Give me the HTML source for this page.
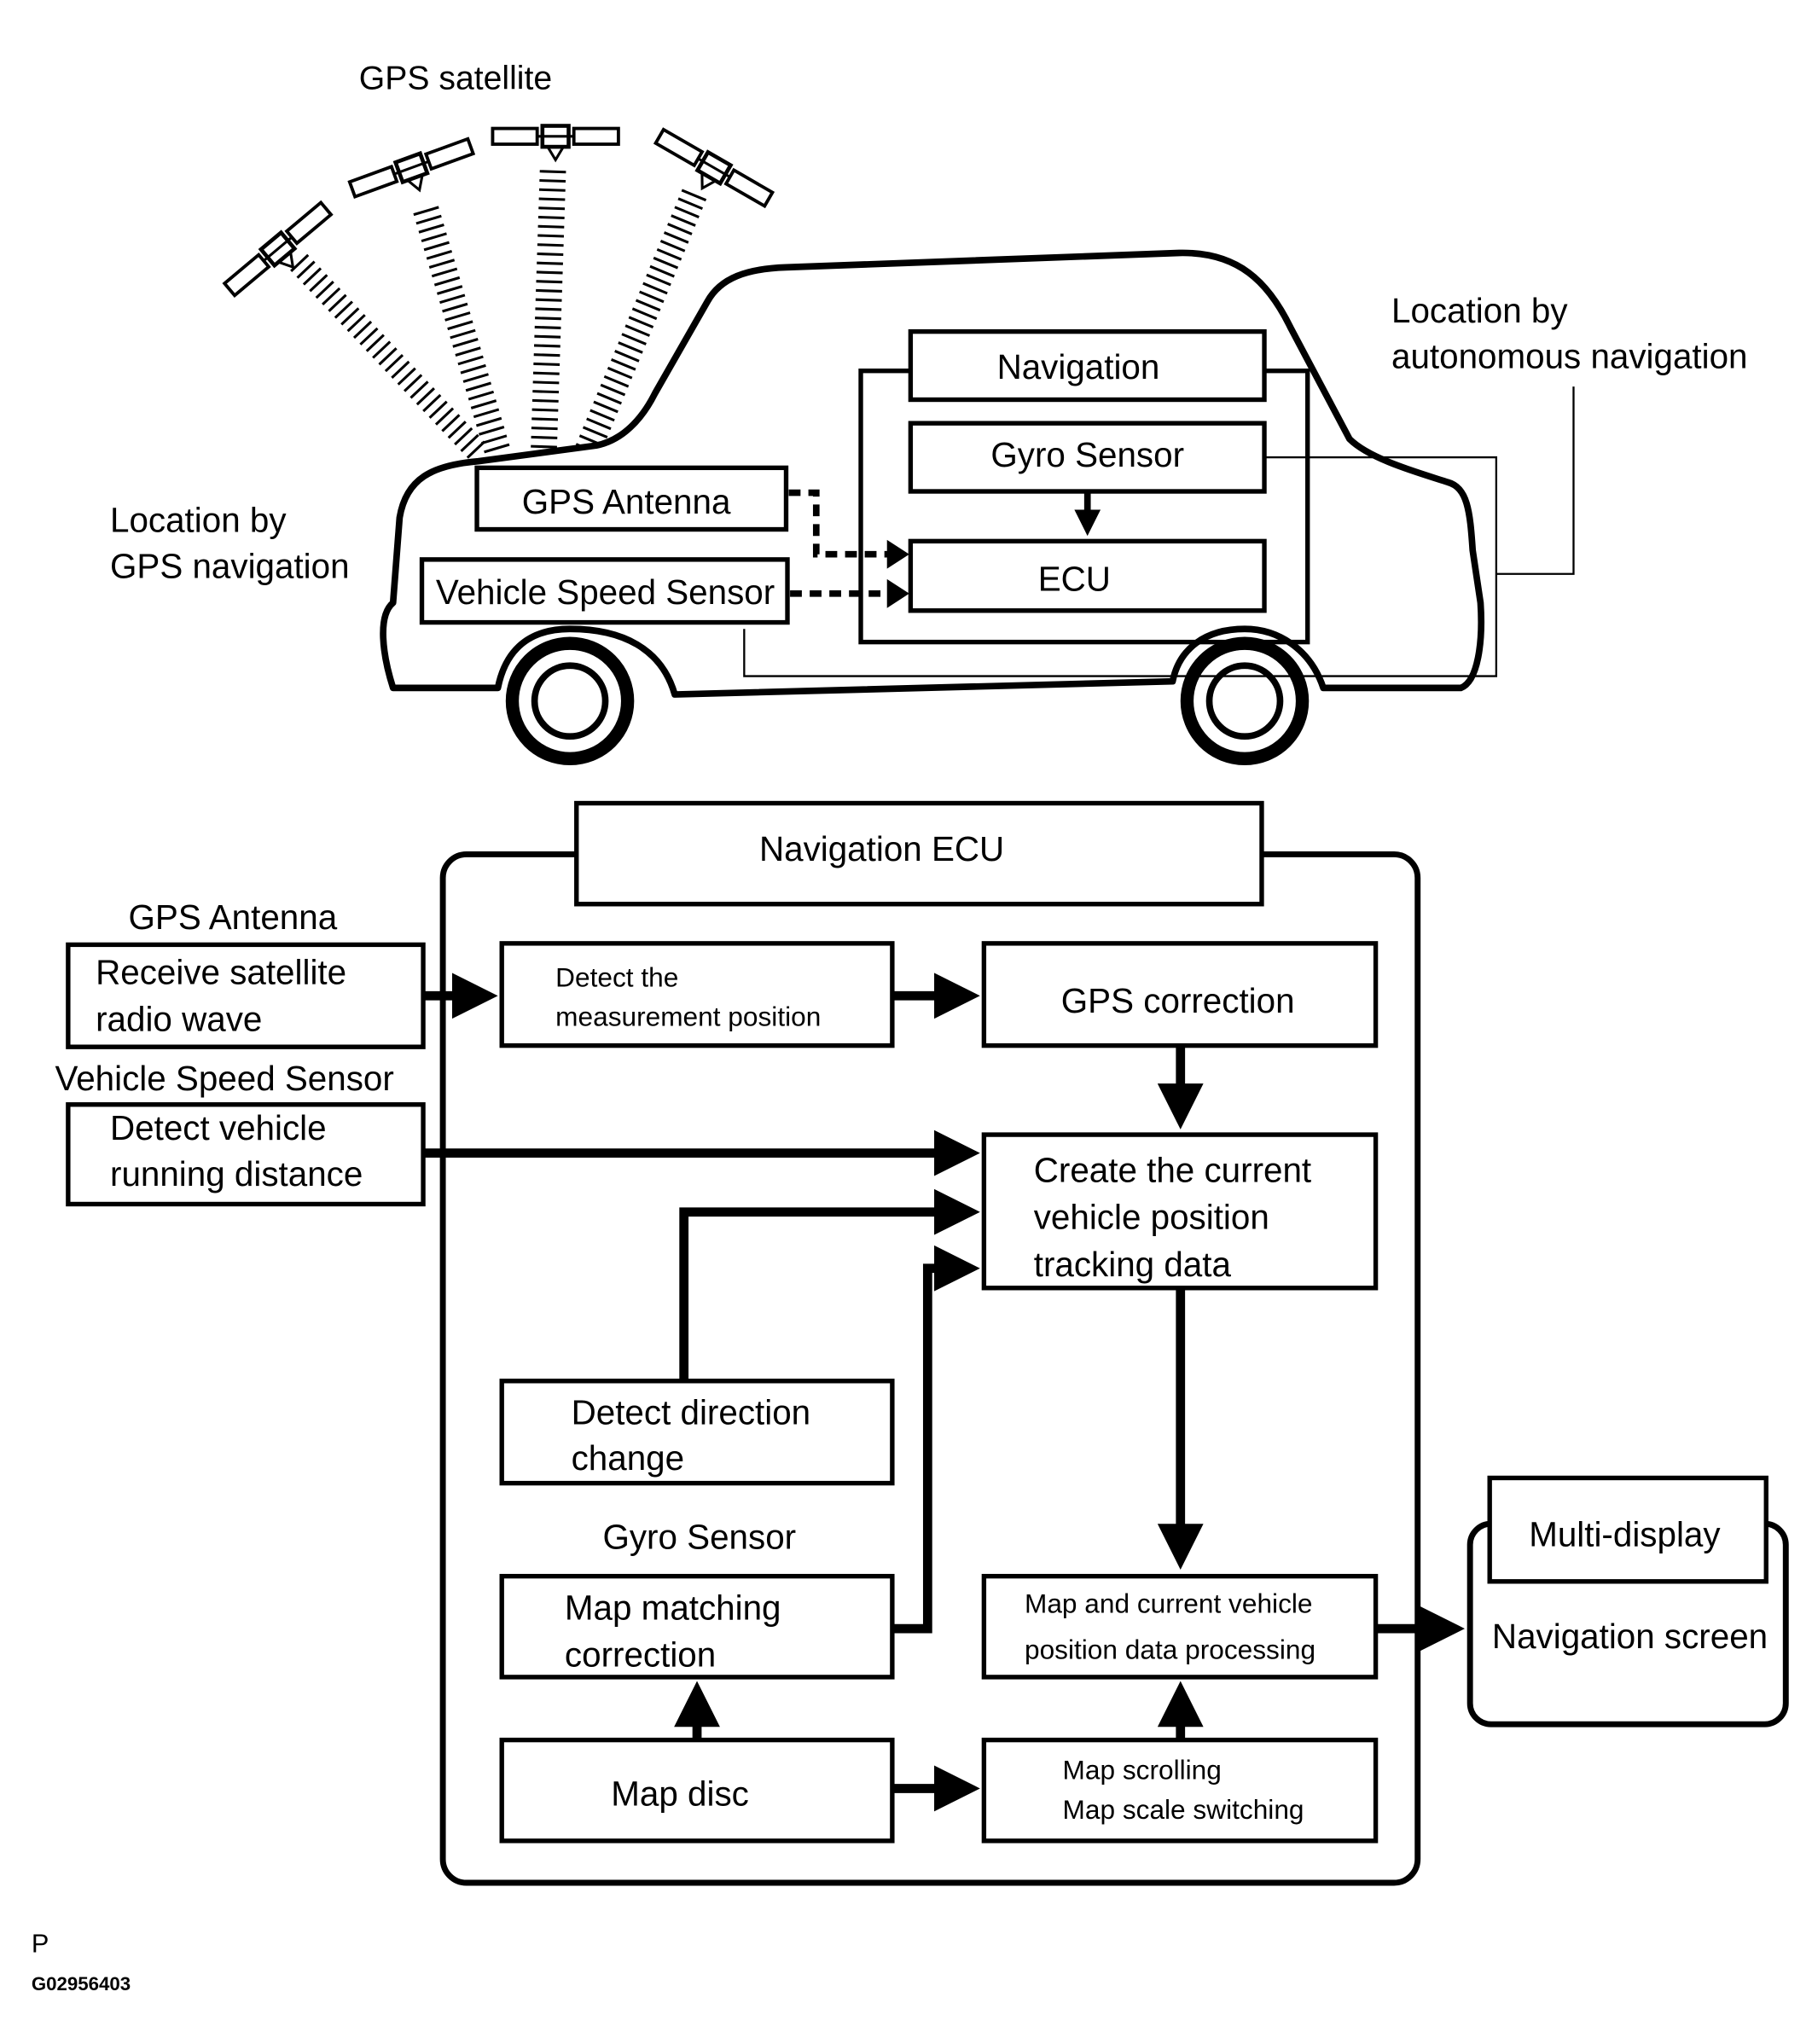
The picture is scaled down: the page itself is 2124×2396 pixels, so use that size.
<!DOCTYPE html>
<html><head><meta charset="utf-8"><style>
html,body{margin:0;padding:0;background:#fff;}
svg{display:block;}
text{font-family:"Liberation Sans",sans-serif;fill:#000;}
</style></head><body>
<svg width="2124" height="2396" viewBox="0 0 1383 1560" xmlns="http://www.w3.org/2000/svg">
<defs>
<marker id="ah" markerWidth="4" markerHeight="4" refX="2.2" refY="2" orient="auto" markerUnits="strokeWidth">
<path d="M0,0 L4,2 L0,4 z" fill="#000"/></marker>
<marker id="ah2" markerWidth="5" markerHeight="5" refX="3" refY="2.5" orient="auto" markerUnits="strokeWidth">
<path d="M0,0 L5,2.5 L0,5 z" fill="#000"/></marker>
<g id="sat">
<rect x="-10" y="-8" width="20" height="16" fill="#fff" stroke="#000" stroke-width="3"/>
<rect x="-48" y="-6" width="34" height="12" fill="#fff" stroke="#000" stroke-width="2.5"/>
<rect x="14" y="-6" width="34" height="12" fill="#fff" stroke="#000" stroke-width="2.5"/>
<line x1="-14" y1="0" x2="14" y2="0" stroke="#000" stroke-width="2"/>
<path d="M-6,8 L0,18 L6,8" fill="none" stroke="#000" stroke-width="2"/>
</g>
</defs>
<rect width="1383" height="1560" fill="#fff"/>

<text x="274" y="68" font-size="25.5">GPS satellite</text>
<g stroke="#000" fill="none" stroke-dasharray="2 5">
<line x1="228" y1="200" x2="365" y2="345" stroke-width="18"/>
<line x1="325" y1="160" x2="380" y2="345" stroke-width="20"/>
<line x1="422" y1="130" x2="415" y2="345" stroke-width="20"/>
<line x1="530" y1="148" x2="448" y2="345" stroke-width="20"/>
</g>
<use href="#sat" transform="translate(212,190) rotate(-40)"/>
<use href="#sat" transform="translate(314,128) rotate(-20)"/>
<use href="#sat" transform="translate(424,104) rotate(0)"/>
<use href="#sat" transform="translate(545,128) rotate(30)"/>

<path d="M300,525 C292,500 288,470 300,460 L305,395 C310,365 330,355 365,352 L455,340 C475,336 490,320 500,300 L540,230 C550,212 570,205 600,204 L900,193 C945,192 968,215 985,250 L1030,335 C1045,350 1080,360 1105,368 C1120,372 1122,390 1124,420 L1130,460 C1132,490 1128,520 1115,525 L1010,525 C1000,495 975,480 950,480 C920,480 900,495 895,520 L515,530 C505,495 475,480 435,480 C400,480 385,500 380,525 Z" fill="#fff" stroke="#000" stroke-width="5" stroke-linejoin="round"/>
<circle cx="435" cy="535" r="44" fill="#fff" stroke="#000" stroke-width="10"/>
<circle cx="435" cy="535" r="27" fill="#fff" stroke="#000" stroke-width="5"/>
<circle cx="950" cy="535" r="44" fill="#fff" stroke="#000" stroke-width="10"/>
<circle cx="950" cy="535" r="27" fill="#fff" stroke="#000" stroke-width="5"/>

<path d="M965,349 H1142 V516 H568 V480" fill="none" stroke="#000" stroke-width="1.5"/>
<path d="M1142,438 H1201 V295" fill="none" stroke="#000" stroke-width="1.5"/>

<rect x="657" y="283" width="341" height="207" fill="none" stroke="#000" stroke-width="3.5"/>
<rect x="695" y="253" width="270" height="52" fill="#fff" stroke="#000" stroke-width="3.5"/>
<text x="823" y="289" font-size="26.3" text-anchor="middle">Navigation</text>
<rect x="695" y="323" width="270" height="52" fill="#fff" stroke="#000" stroke-width="3.5"/>
<text x="830" y="356" font-size="26.3" text-anchor="middle">Gyro Sensor</text>
<line x1="830" y1="375" x2="830" y2="400" stroke="#000" stroke-width="5" marker-end="url(#ah)"/>
<rect x="695" y="413" width="270" height="53" fill="#fff" stroke="#000" stroke-width="3.5"/>
<text x="820" y="451" font-size="26.3" text-anchor="middle">ECU</text>

<rect x="364" y="357" width="236" height="47" fill="#fff" stroke="#000" stroke-width="3.5"/>
<text x="478" y="392" font-size="26.3" text-anchor="middle">GPS Antenna</text>
<rect x="322" y="427" width="279" height="48" fill="#fff" stroke="#000" stroke-width="3.5"/>
<text x="462" y="461" font-size="26.3" text-anchor="middle">Vehicle Speed Sensor</text>
<path d="M602,376 H623 V423 H678" fill="none" stroke="#000" stroke-width="5" stroke-dasharray="9 6"/>
<path d="M677,412 L694,423 L677,434 z" fill="#000"/>
<path d="M603,453 H678" fill="none" stroke="#000" stroke-width="5" stroke-dasharray="9 6"/>
<path d="M677,442 L694,453 L677,464 z" fill="#000"/>

<text x="1062" y="246" font-size="26.3">Location by</text>
<text x="1062" y="281" font-size="26.3">autonomous navigation</text>
<text x="84" y="406" font-size="26.3">Location by</text>
<text x="84" y="441" font-size="26.3">GPS navigation</text>

<rect x="338" y="652" width="744" height="785" rx="18" fill="none" stroke="#000" stroke-width="4.5"/>
<rect x="440" y="613" width="523" height="77" fill="#fff" stroke="#000" stroke-width="3.5"/>
<text x="673" y="657" font-size="26.3" text-anchor="middle">Navigation ECU</text>

<text x="98" y="709" font-size="26.3">GPS Antenna</text>
<rect x="52" y="721" width="271" height="78" fill="#fff" stroke="#000" stroke-width="3.5"/>
<text x="73" y="751" font-size="26.3">Receive satellite</text>
<text x="73" y="787" font-size="26.3">radio wave</text>
<text x="42" y="832" font-size="26.3">Vehicle Speed Sensor</text>
<rect x="52" y="843" width="271" height="76" fill="#fff" stroke="#000" stroke-width="3.5"/>
<text x="84" y="870" font-size="26.3">Detect vehicle</text>
<text x="84" y="905" font-size="26.3">running distance</text>

<rect x="383" y="720" width="298" height="78" fill="#fff" stroke="#000" stroke-width="3.5"/>
<text x="424" y="753" font-size="20.6">Detect the</text>
<text x="424" y="783" font-size="20.6">measurement position</text>
<rect x="751" y="720" width="299" height="78" fill="#fff" stroke="#000" stroke-width="3.5"/>
<text x="899" y="773" font-size="26.3" text-anchor="middle">GPS correction</text>
<rect x="751" y="866" width="299" height="117" fill="#fff" stroke="#000" stroke-width="3.5"/>
<text x="789" y="902" font-size="26.3">Create the current</text>
<text x="789" y="938" font-size="26.3">vehicle position</text>
<text x="789" y="974" font-size="26.3">tracking data</text>
<rect x="383" y="1054" width="298" height="78" fill="#fff" stroke="#000" stroke-width="3.5"/>
<text x="436" y="1087" font-size="26.3">Detect direction</text>
<text x="436" y="1122" font-size="26.3">change</text>
<text x="460" y="1182" font-size="26.3">Gyro Sensor</text>
<rect x="383" y="1203" width="298" height="77" fill="#fff" stroke="#000" stroke-width="3.5"/>
<text x="431" y="1236" font-size="26.3">Map matching</text>
<text x="431" y="1272" font-size="26.3">correction</text>
<rect x="383" y="1328" width="298" height="77" fill="#fff" stroke="#000" stroke-width="3.5"/>
<text x="519" y="1378" font-size="26.3" text-anchor="middle">Map disc</text>
<rect x="751" y="1203" width="299" height="77" fill="#fff" stroke="#000" stroke-width="3.5"/>
<text x="782" y="1231" font-size="20.6">Map and current vehicle</text>
<text x="782" y="1266" font-size="20.6">position data processing</text>
<rect x="751" y="1328" width="299" height="77" fill="#fff" stroke="#000" stroke-width="3.5"/>
<text x="811" y="1358" font-size="20.6">Map scrolling</text>
<text x="811" y="1388" font-size="20.6">Map scale switching</text>

<rect x="1122" y="1163" width="241" height="153" rx="16" fill="#fff" stroke="#000" stroke-width="4.5"/>
<rect x="1137" y="1128" width="211" height="79" fill="#fff" stroke="#000" stroke-width="3.5"/>
<text x="1240" y="1180" font-size="26.3" text-anchor="middle">Multi-display</text>
<text x="1244" y="1258" font-size="26.3" text-anchor="middle">Navigation screen</text>

<g stroke="#000" stroke-width="7" fill="none" marker-end="url(#ah2)">
<line x1="323" y1="760" x2="366" y2="760"/>
<line x1="681" y1="760" x2="734" y2="760"/>
<line x1="901" y1="798" x2="901" y2="848"/>
<line x1="323" y1="880" x2="734" y2="880"/>
<path d="M522,1054 V925 H734"/>
<path d="M681,1243 H708 V968 H734"/>
<line x1="901" y1="983" x2="901" y2="1184"/>
<line x1="532" y1="1328" x2="532" y2="1297"/>
<line x1="681" y1="1365" x2="734" y2="1365"/>
<line x1="901" y1="1328" x2="901" y2="1297"/>
<line x1="1050" y1="1243" x2="1104" y2="1243"/>
</g>

<text x="24" y="1490" font-size="20">P</text>
<text x="24" y="1519" font-size="14.5" font-weight="bold">G02956403</text>
</svg>
</body></html>
